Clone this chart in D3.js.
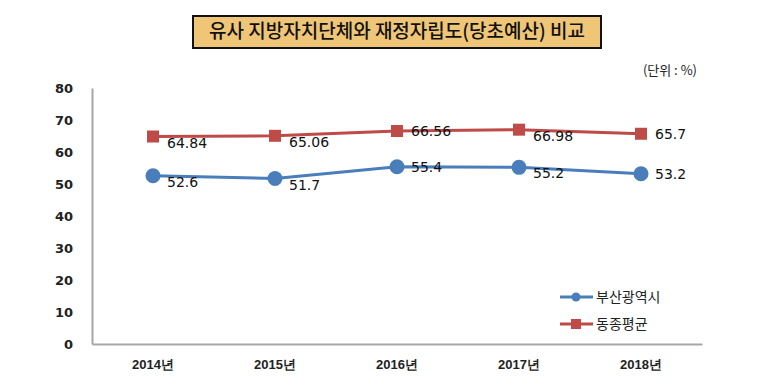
<!DOCTYPE html>
<html>
<head>
<meta charset="utf-8">
<script src="https://cdn.jsdelivr.net/npm/d3@7"></script>
<style>
  body { margin: 0; background: #fff; }
  svg { display: block; font-family: "Noto Sans CJK KR", "Noto Sans", sans-serif; }
</style>
</head>
<body>
<svg width="782" height="390"></svg>
<script>
const TITLE = "유사 지방자치단체와 재정자립도(당초예산) 비교";
const UNIT = "(단위 : %)";
const YEARS = ["2014년", "2015년", "2016년", "2017년", "2018년"];
const SERIES_NAMES = ["부산광역시", "동종평균"];
const BUSAN = [52.6, 51.7, 55.4, 55.2, 53.2];
const PEER_AVG = [64.84, 65.06, 66.56, 66.98, 65.7];
const Y_TICKS = [0, 10, 20, 30, 40, 50, 60, 70, 80];

const COLORS = ["#4a7ebb", "#be4b48"];
// where the value label sits relative to its point: "r" = right, "br" = below right
const LABEL_PLACE = [
  ["br", "br", "r", "br", "r"],
  ["br", "br", "r", "br", "r"],
];

const PLOT = { left: 92, right: 702, top: 88, bottom: 344 };

const svg = d3.select("svg");

const x = d3.scaleBand().domain(YEARS).range([PLOT.left, PLOT.right]);
const y = d3.scaleLinear().domain([0, 80]).range([PLOT.bottom, PLOT.top]);

// title box
const title = svg.append("g");
title
  .append("rect")
  .attr("x", 193)
  .attr("y", 16)
  .attr("width", 408)
  .attr("height", 32)
  .attr("fill", "#efc677")
  .attr("stroke", "#111")
  .attr("stroke-width", 2);
title
  .append("text")
  .attr("x", 397)
  .attr("y", 38)
  .attr("text-anchor", "middle")
  .attr("font-size", 19)
  .attr("font-weight", 500)
  .attr("fill", "#111")
  .text(TITLE);

svg
  .append("text")
  .attr("x", 697)
  .attr("y", 75)
  .attr("text-anchor", "end")
  .attr("font-size", 13)
  .attr("fill", "#222")
  .text(UNIT);

// axes
const yAxis = svg
  .append("g")
  .attr("transform", `translate(${PLOT.left},0)`)
  .call(d3.axisLeft(y).tickValues(Y_TICKS).tickSize(0).tickPadding(19));
yAxis.select(".domain").attr("stroke", "#a6a6a6").attr("stroke-width", 2);
yAxis
  .selectAll("text")
  .attr("font-family", "'DejaVu Sans', sans-serif")
  .attr("font-size", 13)
  .attr("font-weight", 600)
  .attr("fill", "#222");

const xAxis = svg
  .append("g")
  .attr("transform", `translate(0,${PLOT.bottom})`)
  .call(d3.axisBottom(x).tickSize(0).tickPadding(16));
xAxis.select(".domain").attr("stroke", "#a6a6a6").attr("stroke-width", 2);
xAxis
  .selectAll("text")
  .attr("font-size", 13)
  .attr("font-weight", "bold")
  .attr("fill", "#222");

// lines
const cx = (d, i) => x(YEARS[i]) + x.bandwidth() / 2;
const line = d3
  .line()
  .x(cx)
  .y((d) => y(d));

[BUSAN, PEER_AVG].forEach((vals, s) => {
  const g = svg.append("g");
  g.append("path")
    .attr("d", line(vals))
    .attr("fill", "none")
    .attr("stroke", COLORS[s])
    .attr("stroke-width", 3);

  if (s === 0) {
    g.selectAll("circle")
      .data(vals)
      .enter()
      .append("circle")
      .attr("cx", cx)
      .attr("cy", (d) => y(d))
      .attr("r", 7.5)
      .attr("fill", COLORS[s]);
  } else {
    g.selectAll("rect")
      .data(vals)
      .enter()
      .append("rect")
      .attr("x", (d, i) => cx(d, i) - 6)
      .attr("y", (d) => y(d) - 6)
      .attr("width", 12)
      .attr("height", 12)
      .attr("fill", COLORS[s]);
  }

  g.selectAll("text")
    .data(vals)
    .enter()
    .append("text")
    .attr("x", (d, i) => cx(d, i) + 14)
    .attr("y", (d, i) => y(d) + (LABEL_PLACE[s][i] === "r" ? 5 : 11))
    .attr("font-family", "'DejaVu Sans', sans-serif")
    .attr("font-size", 14)
    .attr("fill", "#111")
    .text((d) => d);
});

// legend
const legend = svg.append("g");
SERIES_NAMES.forEach((name, s) => {
  const ly = 297 + s * 27;
  legend
    .append("line")
    .attr("x1", 560)
    .attr("x2", 593)
    .attr("y1", ly)
    .attr("y2", ly)
    .attr("stroke", COLORS[s])
    .attr("stroke-width", 3);
  if (s === 0) {
    legend.append("circle").attr("cx", 576).attr("cy", ly).attr("r", 4.5).attr("fill", COLORS[s]);
  } else {
    legend
      .append("rect")
      .attr("x", 571)
      .attr("y", ly - 5)
      .attr("width", 10)
      .attr("height", 10)
      .attr("fill", COLORS[s]);
  }
  legend
    .append("text")
    .attr("x", 596)
    .attr("y", ly + 5)
    .attr("font-size", 14)
    .attr("fill", "#222")
    .text(name);
});
</script>
</body>
</html>
